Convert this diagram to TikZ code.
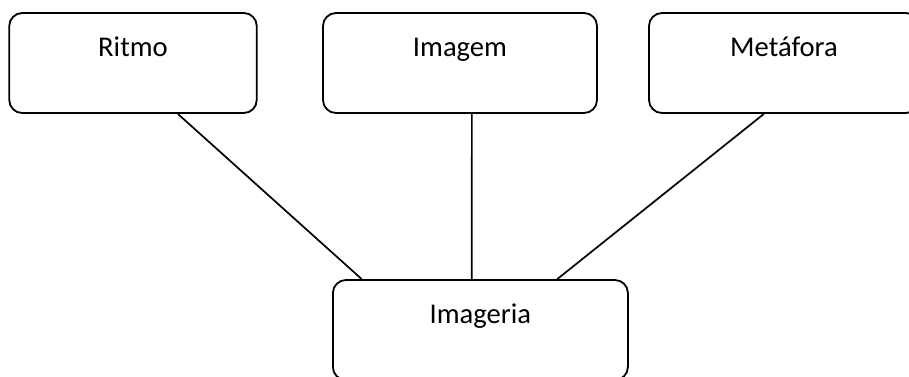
\documentclass[tikz,border=0pt]{standalone}
\usepackage{fontspec}
\setmainfont{Carlito}
\usetikzlibrary{calc}
\tikzstyle{box}=
[
	rectangle
	, rounded corners=6.5pt
	, draw=black
	, line width=0.9pt
	, minimum height=50pt
	, inner sep=0pt
	, text height=21.5pt
	, text depth=28.5pt
	, font=\fontsize{14.3}{17}\selectfont
]
\tikzstyle{line} = [line width=0.85pt,-]
\begin{document}
\begin{tikzpicture}[x=0.5pt,y=-0.5pt]

\clip (0,0) rectangle (909,376);

\node(ritmo)[box, minimum width=123.75pt] at (133,63){Ritmo};
\node(imagem)[box, minimum width=137pt] at (460,63){Imagem};
\node(metafora)[box, minimum width=135pt] at (784,63){Metáfora};
\node(imageria)[box, minimum width=147.5pt] at (480.4,330){Imageria};

\draw[line]($(ritmo.south west)!0.68!(ritmo.south east)$)--($(imageria.north west)!0.10!(imageria.north east)$);
\draw[line]($(imagem.south west)!0.543!(imagem.south east)$)--($(imageria.north west)!0.471!(imageria.north east)$);
\draw[line]($(metafora.south west)!0.426!(metafora.south east)$)--($(imageria.north west)!0.759!(imageria.north east)$);

\end{tikzpicture}
\end{document}
